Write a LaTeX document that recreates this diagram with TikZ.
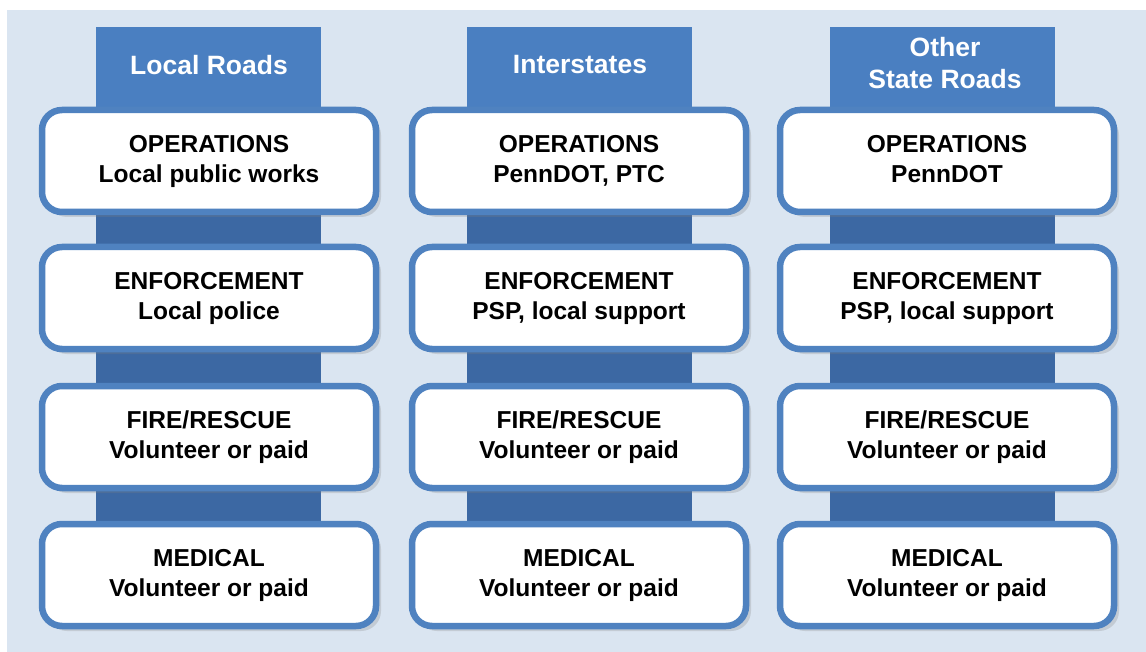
\documentclass[tikz,border=0pt]{standalone}
\usepackage{fontspec}
\setmainfont{Liberation Sans}
\usetikzlibrary{shadows}

\definecolor{panelbg}{HTML}{DAE5F1}
\definecolor{headblue}{HTML}{4A7FC1}
\definecolor{barblue}{HTML}{3C68A3}
\definecolor{rimblue}{HTML}{4F82C0}

\tikzset{
  roleblock/.style={draw=rimblue, fill=white, line width=6.5pt, rounded corners=20pt,
    minimum width=334pt, minimum height=102pt, align=center, text=black,
    font=\fontsize{24.5}{30}\selectfont\bfseries,
    execute at end node=\vphantom{p},
    drop shadow={opacity=0.25, shadow xshift=5pt, shadow yshift=-5pt}},
  roadhead/.style={fill=headblue, minimum width=225pt, minimum height=80pt, anchor=north,
    inner sep=0pt},
  roadtext/.style={text=white, align=center, font=\fontsize{26.5}{32}\selectfont\bfseries},
  roadbar/.style={fill=barblue, minimum width=225pt, minimum height=480pt, anchor=north, inner sep=0pt}
}

\begin{document}
\begin{tikzpicture}[x=1pt,y=-1pt]
\useasboundingbox (0,0) rectangle (1146,652);
\fill[white] (0,0) rectangle (1146,652);
\fill[panelbg] (7,10) rectangle (1146,652);

% column bars behind the boxes
\node (bar1) [roadbar] at (208,100) {};
\node (bar2) [roadbar] at (579,100) {};
\node (bar3) [roadbar] at (942,100) {};

\node (local) [roadhead] at (208,27) {};
\node (inter) [roadhead] at (579,27) {};
\node (other) [roadhead] at (942,27) {};
\node (localtxt) [roadtext] at (209,65) {Local Roads};
\node (intertxt) [roadtext] at (580,65) {Interstates};
\node (othertxt) [roadtext] at (945,63) {Other\\State Roads};

% Local Roads
\node (localops) [roleblock] at (209,161) {OPERATIONS\\Local public works};
\node (localenf) [roleblock] at (209,298) {ENFORCEMENT\\Local police};
\node (localfire) [roleblock] at (209,437) {FIRE/RESCUE\\Volunteer or paid};
\node (localmed) [roleblock] at (209,575) {MEDICAL\\Volunteer or paid};

% Interstates
\node (interops) [roleblock] at (579,161) {OPERATIONS\\PennDOT, PTC};
\node (interenf) [roleblock] at (579,298) {ENFORCEMENT\\PSP, local support};
\node (interfire) [roleblock] at (579,437) {FIRE/RESCUE\\Volunteer or paid};
\node (intermed) [roleblock] at (579,575) {MEDICAL\\Volunteer or paid};

% Other State Roads
\node (otherops) [roleblock] at (947,161) {OPERATIONS\\PennDOT};
\node (otherenf) [roleblock] at (947,298) {ENFORCEMENT\\PSP, local support};
\node (otherfire) [roleblock] at (947,437) {FIRE/RESCUE\\Volunteer or paid};
\node (othermed) [roleblock] at (947,575) {MEDICAL\\Volunteer or paid};

\end{tikzpicture}
\end{document}
